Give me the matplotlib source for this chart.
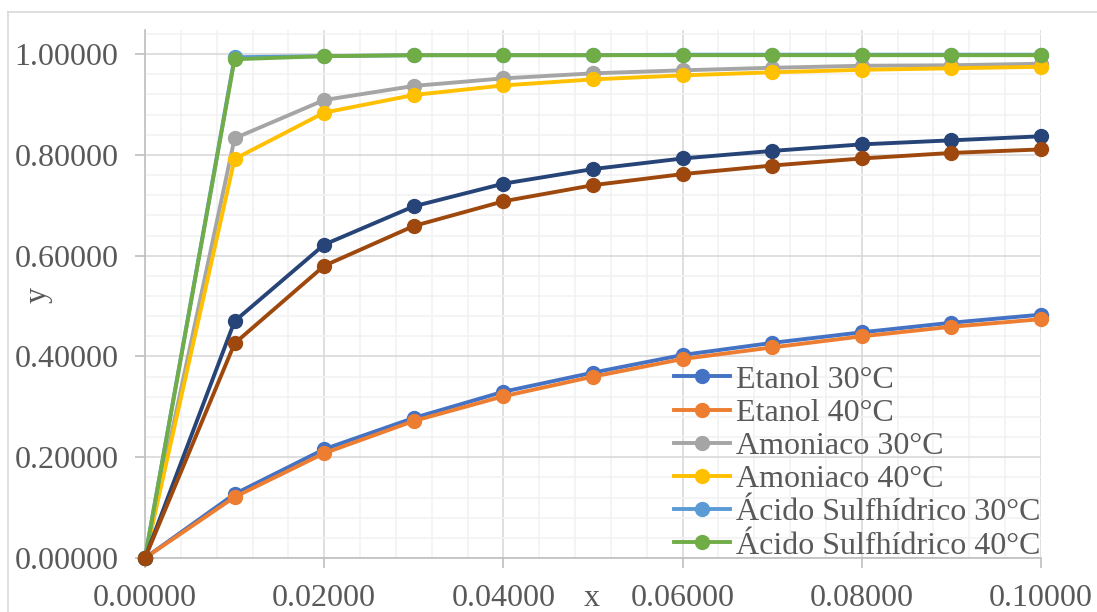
import matplotlib
matplotlib.use("Agg")
import matplotlib.pyplot as plt
from matplotlib.lines import Line2D
from matplotlib.ticker import MultipleLocator, FormatStrFormatter

plt.rcParams["font.family"] = ["Liberation Serif", "DejaVu Serif"]

# fracción molar en el líquido
x = [0.0, 0.01, 0.02, 0.03, 0.04, 0.05, 0.06, 0.07, 0.08, 0.09, 0.10]

etanol_30 = [0.0, 0.127, 0.216, 0.278, 0.330, 0.368, 0.403, 0.427, 0.448, 0.467, 0.483]
etanol_40 = [0.0, 0.121, 0.208, 0.272, 0.321, 0.360, 0.395, 0.418, 0.440, 0.459, 0.474]
amoniaco_30 = [0.0, 0.833, 0.909, 0.937, 0.952, 0.962, 0.968, 0.973, 0.977, 0.978, 0.981]
amoniaco_40 = [0.0, 0.792, 0.884, 0.919, 0.938, 0.950, 0.958, 0.964, 0.969, 0.972, 0.975]
h2s_30 = [0.0, 0.994, 0.996, 0.998, 0.998, 0.998, 0.999, 0.999, 0.999, 0.999, 0.999]
h2s_40 = [0.0, 0.990, 0.996, 0.998, 0.998, 0.998, 0.998, 0.998, 0.998, 0.998, 0.998]
serie_7 = [0.0, 0.470, 0.622, 0.698, 0.743, 0.772, 0.793, 0.808, 0.821, 0.829, 0.837]
serie_8 = [0.0, 0.426, 0.580, 0.659, 0.708, 0.740, 0.762, 0.779, 0.793, 0.804, 0.811]

series = [
    ("Etanol 30°C", etanol_30, "#4472C4"),
    ("Etanol 40°C", etanol_40, "#ED7D31"),
    ("Amoniaco 30°C", amoniaco_30, "#A5A5A5"),
    ("Amoniaco 40°C", amoniaco_40, "#FFC000"),
    ("Ácido Sulfhídrico 30°C", h2s_30, "#5B9BD5"),
    ("Ácido Sulfhídrico 40°C", h2s_40, "#70AD47"),
    ("_serie7", serie_7, "#264478"),
    ("_serie8", serie_8, "#9E480E"),
]

text_color = "#595959"
fs = 23

fig = plt.figure(figsize=(10.97, 6.12), dpi=100)
ax = fig.add_axes([145 / 1097, 1 - 558 / 612, 896 / 1097, 528 / 612])

# chart area border (clipped at the right and bottom like the reference)
fig.add_artist(Line2D([8 / 1097, 1.0], [1 - 12 / 612, 1 - 12 / 612],
                      color="#D9D9D9", lw=1.2, transform=fig.transFigure))
fig.add_artist(Line2D([8 / 1097, 8 / 1097], [0.0, 1 - 12 / 612],
                      color="#D9D9D9", lw=1.2, transform=fig.transFigure))

for label, values, color in series:
    ax.plot(x, values, color=color, lw=2.8, marker="o", markersize=10,
            label=label, clip_on=False, zorder=3)

ax.set_xlim(0, 0.1)
ax.set_ylim(0, 1.048)
ax.xaxis.set_major_locator(MultipleLocator(0.02))
ax.xaxis.set_minor_locator(MultipleLocator(0.004))
ax.yaxis.set_major_locator(MultipleLocator(0.2))
ax.yaxis.set_minor_locator(MultipleLocator(0.04))
ax.xaxis.set_major_formatter(FormatStrFormatter("%.5f"))
ax.yaxis.set_major_formatter(FormatStrFormatter("%.5f"))

ax.grid(which="major", color="#D9D9D9", lw=1.2, zorder=0)
ax.grid(which="minor", color="#F2F2F2", lw=1.2, zorder=0)
ax.set_axisbelow(True)

for side in ["top", "right"]:
    ax.spines[side].set_visible(False)
for side in ["left", "bottom"]:
    ax.spines[side].set_color("#BFBFBF")
    ax.spines[side].set_linewidth(1.2)

ax.tick_params(which="major", length=7, width=1.2, color="#BFBFBF",
               labelsize=fs, labelcolor=text_color)
ax.tick_params(axis="y", which="major", pad=12)
ax.tick_params(axis="x", which="major", pad=12)
ax.tick_params(which="minor", length=0)

ax.set_xlabel("x", fontsize=fs, color=text_color, va="center")
ax.xaxis.set_label_coords(0.499, -0.076)
ax.set_ylabel("y", fontsize=fs, color=text_color, va="center")
ax.yaxis.set_label_coords(-0.119, 0.498)

leg = ax.legend(loc="lower right", bbox_to_anchor=(1.0, -0.005), frameon=False,
                fontsize=fs, handlelength=1.75, handletextpad=0.2,
                labelspacing=0.12, borderpad=0, borderaxespad=0)
for t in leg.get_texts():
    t.set_color(text_color)

fig.savefig("out.png", dpi=100)
